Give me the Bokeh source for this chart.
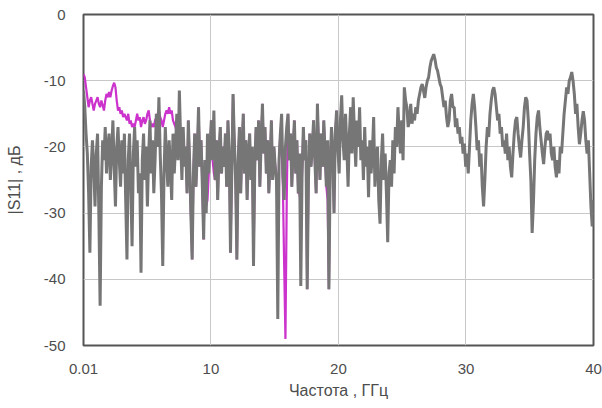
import numpy as np
from bokeh.plotting import figure
from bokeh.models import Range1d, FixedTicker
from bokeh.embed import file_html
from bokeh.resources import INLINE

# Frequency grid (GHz)
F_START = 0.01
F_STOP = 40.0
N_POINTS = 400

# |S11| grey trace (dB), one row per GHz
s11_grey = [
    -11.5, -14, -18, -21, -27, -36, -23, -19, -23, -29,
    -21, -18, -30, -44, -26, -19, -22, -17, -24, -20,
    -18, -25, -21, -16, -23, -29, -20, -17, -22, -26,
    -19, -24, -18, -28, -37, -22, -18, -26, -35, -21,
    -17, -23, -19, -27, -24, -39, -22, -18, -25, -20,
    -29, -21, -16, -24, -19, -27, -22, -15, -20, -12.5,
    -21, -27, -38, -24, -17, -22, -26, -19, -23, -28,
    -18, -24, -20, -15, -22, -11.5, -19, -25, -17, -23,
    -20, -27, -16, -22, -30, -37, -24, -18, -26, -21,
    -14, -23, -19, -26, -34, -22, -30, -18, -24, -20,
    -16, -22, -14.5, -25, -19, -28, -21, -17, -24, -20,
    -23, -18, -26, -16, -21, -36, -24, -12, -19, -25,
    -37, -22, -17, -27, -20, -15, -24, -19, -28, -21,
    -18, -25, -20, -38, -23, -17, -22, -16, -26, -19,
    -13.5, -21, -17, -24, -19, -27, -22, -16, -25, -20,
    -23, -25, -46, -22, -18, -15, -24, -28, -20, -17,
    -15, -22, -18, -26, -20, -16, -24, -19, -27, -21,
    -41, -24, -17, -22, -19, -41.5, -25, -18, -23, -20,
    -16, -22, -27, -13.5, -20, -25, -18, -23, -16, -21,
    -26, -19, -41.5, -23, -17, -21, -30, -18, -14.5, -20,
    -24, -16, -12.2, -19, -22, -15, -20, -26, -18, -14,
    -21, -12.5, -18, -23, -16, -20, -14, -22, -19, -25,
    -17, -23, -20, -27.6, -19, -24, -21, -15.5, -26, -22,
    -20, -28, -31.6, -22, -18, -25, -21, -27, -34.4, -24,
    -22, -26, -19, -24, -17, -20, -14, -18, -21, -16,
    -22, -11, -13, -14, -17, -16, -13.5, -16.5, -15, -16,
    -14, -15, -13, -12, -11, -10.5, -11.5, -12.6, -11, -10,
    -9.5, -8, -7, -6.5, -6, -6.8, -8, -8.5, -9.5, -10.5,
    -11, -12.5, -14, -13, -15.5, -17, -16, -13, -12, -14,
    -14, -17, -15.7, -18, -17, -19.5, -18.5, -21, -19.5, -23,
    -21, -24, -20, -16, -13.5, -12, -14, -17, -20.5, -19,
    -23, -21, -26, -29, -25, -20, -17, -18.5, -15, -13,
    -11.5, -11, -12, -14, -16, -15, -18, -17, -20, -19,
    -21, -18, -22, -20, -23, -24.6, -21, -18, -16, -15.5,
    -18, -20, -21.6, -19, -17, -14, -12.5, -13, -16, -21,
    -25, -33, -28.5, -22, -18, -15.5, -14.5, -17, -19, -21,
    -22.6, -20, -18, -17.6, -19, -18, -21, -22, -20, -23,
    -24.6, -22, -24, -20, -21, -18, -15, -13, -11, -12,
    -10, -9.5, -8.7, -10, -12, -15, -13.5, -17, -19.6, -18,
    -16, -14.6, -16, -19, -21, -19, -24, -29, -32, -28,
]

# |S11| magenta trace (dB), 0.01 .. ~20 GHz
s11_magenta = [
    -9, -9.5, -11, -12.5, -14, -13, -12.5, -13.5, -14.5, -13.5,
    -13, -12.5, -13.5, -14, -13, -13.7, -14.5, -13, -12, -12.5,
    -11.7, -12.5, -11.5, -10.8, -10.3, -11, -13, -14.5, -14, -15,
    -14.5, -15.5, -15, -15.5, -16, -15, -16.5, -16, -17, -16.5,
    -17, -16, -15, -16, -15.5, -17, -16, -15.5, -16.5, -16,
    -15, -14.5, -16, -17, -16.5, -17, -16, -15.5, -15, -14.5,
    -15.5, -16, -17, -16, -15, -14.5, -15, -14, -15, -14.5,
    -16, -16.5, -17, -18, -17, -18.5, -19, -20, -19, -21,
    -20, -27, -16, -22, -30, -37, -24, -18, -26, -21,
    -14, -23, -19, -26, -34, -22, -29, -28, -24, -20,
    -16, -22, -24, -25, -19, -28, -21, -17, -24, -20,
    -23, -18, -26, -16, -21, -36, -24, -12, -19, -25,
    -37, -22, -17, -27, -20, -15, -24, -19, -28, -21,
    -18, -25, -20, -38, -23, -17, -22, -16, -26, -19,
    -13.5, -21, -17, -24, -19, -27, -22, -16, -25, -20,
    -23, -25, -30, -22, -18, -20, -26, -38, -49, -28,
    -15, -22, -18, -26, -20, -16, -24, -19, -27, -27,
    -29, -24, -17, -22, -19, -41.5, -25, -18, -23, -20,
    -16, -22, -27, -13.5, -20, -25, -18, -23, -16, -21,
    -26, -28, -41.5, -23, -17, -21, -30, -18, -14.5, -20,
]

x_ticks = [0.01, 10, 20, 30, 40]
x_tick_labels = ["0.01", "10", "20", "30", "40"]
y_ticks = [-50, -40, -30, -20, -10, 0]
y_tick_labels = ["-50", "-40", "-30", "-20", "-10", "0"]

freq = np.linspace(F_START, F_STOP, N_POINTS)
freq_m = freq[:len(s11_magenta)]

FONT = "Liberation Sans"
TXT = "#4d4d4d"

p = figure(width=602, height=408, output_backend="svg", toolbar_location=None,
           x_range=Range1d(F_START, F_STOP), y_range=Range1d(-50, 0),
           min_border_left=83, min_border_right=9, min_border_top=14,
           min_border_bottom=63)

p.background_fill_color = "white"
p.border_fill_color = "white"
p.outline_line_color = "#555555"
p.outline_line_width = 2

p.line(freq_m, s11_magenta, line_color="#cc33cc", line_width=2.2)
p.line(freq, s11_grey, line_color="#767676", line_width=3)

p.xaxis.ticker = FixedTicker(ticks=x_ticks)
p.yaxis.ticker = FixedTicker(ticks=y_ticks)
p.xaxis.major_label_overrides = {t: l for t, l in zip(x_ticks, x_tick_labels)}
p.yaxis.major_label_overrides = {t: l for t, l in zip(y_ticks, y_tick_labels)}
p.xgrid.ticker = FixedTicker(ticks=[10, 20, 30])
p.ygrid.ticker = FixedTicker(ticks=[-10, -20, -30, -40])
p.grid.grid_line_color = "#c8c8c8"
p.grid.grid_line_width = 1

for ax in (p.xaxis, p.yaxis):
    ax.axis_line_color = None
    ax.major_tick_line_color = None
    ax.minor_tick_line_color = None
    ax.major_tick_out = 0
    ax.major_tick_in = 0
    ax.minor_tick_out = 0
    ax.minor_tick_in = 0
    ax.major_label_text_font = FONT
    ax.major_label_text_font_size = "15px"
    ax.major_label_text_color = TXT
    ax.axis_label_text_font = FONT
    ax.axis_label_text_font_size = "16px"
    ax.axis_label_text_font_style = "normal"
    ax.axis_label_text_color = TXT

p.xaxis.axis_label = "Частота , ГГц"
p.yaxis.axis_label = "|S11| , дБ"
p.xaxis.major_label_standoff = 18
p.xaxis.axis_label_standoff = 5
p.yaxis.major_label_standoff = 18
p.yaxis.axis_label_standoff = 18

open("out.html", "w").write(file_html(p, INLINE))
